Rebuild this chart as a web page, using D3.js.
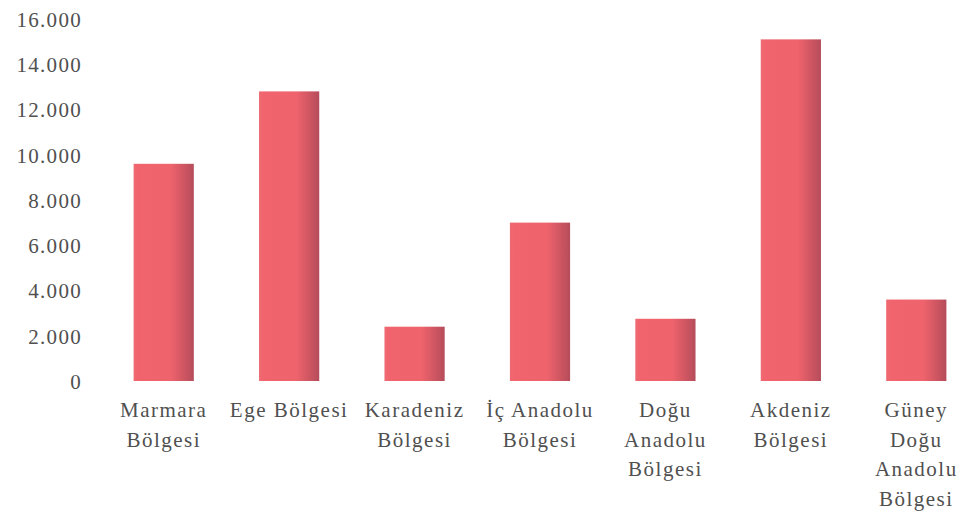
<!DOCTYPE html>
<html>
<head>
<meta charset="utf-8">
<script src="https://cdn.jsdelivr.net/npm/d3@7"></script>
<style>
  body { margin: 0; background: #fff; }
  svg { display: block; }
  text { font-family: "Liberation Serif", Tinos, "Times New Roman", Times, "DejaVu Serif", serif; fill: #505050; }
</style>
</head>
<body>
<script>
var regions = ['Marmara Bölgesi', 'Ege Bölgesi', 'Karadeniz Bölgesi', 'İç Anadolu Bölgesi',
               'Doğu Anadolu Bölgesi', 'Akdeniz Bölgesi', 'Güney Doğu Anadolu Bölgesi'];
var labelLines = [['Marmara', 'Bölgesi'], ['Ege Bölgesi'], ['Karadeniz', 'Bölgesi'], ['İç Anadolu', 'Bölgesi'],
                  ['Doğu', 'Anadolu', 'Bölgesi'], ['Akdeniz', 'Bölgesi'], ['Güney', 'Doğu', 'Anadolu', 'Bölgesi']];
var values = [9600, 12800, 2400, 7000, 2750, 15100, 3600];
var yTicks = [0, 2000, 4000, 6000, 8000, 10000, 12000, 14000, 16000];

var width = 964, height = 525;
var serif = '"Liberation Serif", Tinos, "Times New Roman", Times, "DejaVu Serif", serif';

var svg = d3.select('body').append('svg').attr('width', width).attr('height', height);

// bar shading, darker toward the right edge
var grad = svg.append('defs').append('linearGradient').attr('id', 'barGrad')
	.attr('x1', '0%').attr('x2', '100%').attr('y1', '0%').attr('y2', '0%');
grad.append('stop').attr('offset', '0%').attr('stop-color', '#ee6a72');
grad.append('stop').attr('offset', '8%').attr('stop-color', '#f1646d');
grad.append('stop').attr('offset', '62%').attr('stop-color', '#ee636c');
grad.append('stop').attr('offset', '90%').attr('stop-color', '#c5525f');
grad.append('stop').attr('offset', '100%').attr('stop-color', '#b54c5b');

var x = d3.scaleBand().domain(regions).range([101, 979]).paddingInner(0.52).paddingOuter(0.26);
var y = d3.scaleLinear().domain([0, 16000]).range([381, 19]);

// y axis labels only, no line or ticks
var yAxis = svg.append('g').attr('transform', 'translate(82,0)')
	.call(d3.axisLeft(y).tickValues(yTicks).tickSize(0).tickPadding(0)
		.tickFormat(d => d3.format(',')(d).replace(/,/g, '.')));
yAxis.attr('font-family', serif);
yAxis.select('.domain').remove();
yAxis.selectAll('text')
	.style('font-family', serif)
	.attr('font-size', 21).attr('fill', '#505050')
	.attr('letter-spacing', '1.3px')
	.attr('dy', '0.35em');

// bars
svg.selectAll('rect.bar')
	.data(values)
	.enter().append('rect')
		.attr('class', 'bar')
		.attr('x', (d, i) => x(regions[i]))
		.attr('y', d => y(d))
		.attr('width', x.bandwidth())
		.attr('height', d => y(0) - y(d))
		.attr('fill', 'url(#barGrad)');

// category labels, wrapped as in the original
var labels = svg.selectAll('text.cat')
	.data(labelLines)
	.enter().append('text')
		.attr('class', 'cat')
		.attr('text-anchor', 'middle')
		.attr('font-size', 21)
		.attr('letter-spacing', '1.5px')
		.style('font-family', serif)
		.attr('transform', (d, i) => 'translate(' + (x(regions[i]) + x.bandwidth() / 2) + ',417)');

labels.selectAll('tspan')
	.data(d => d)
	.enter().append('tspan')
		.attr('x', 0)
		.attr('y', (d, i) => i * 29.5)
		.text(d => d);
</script>
</body>
</html>
